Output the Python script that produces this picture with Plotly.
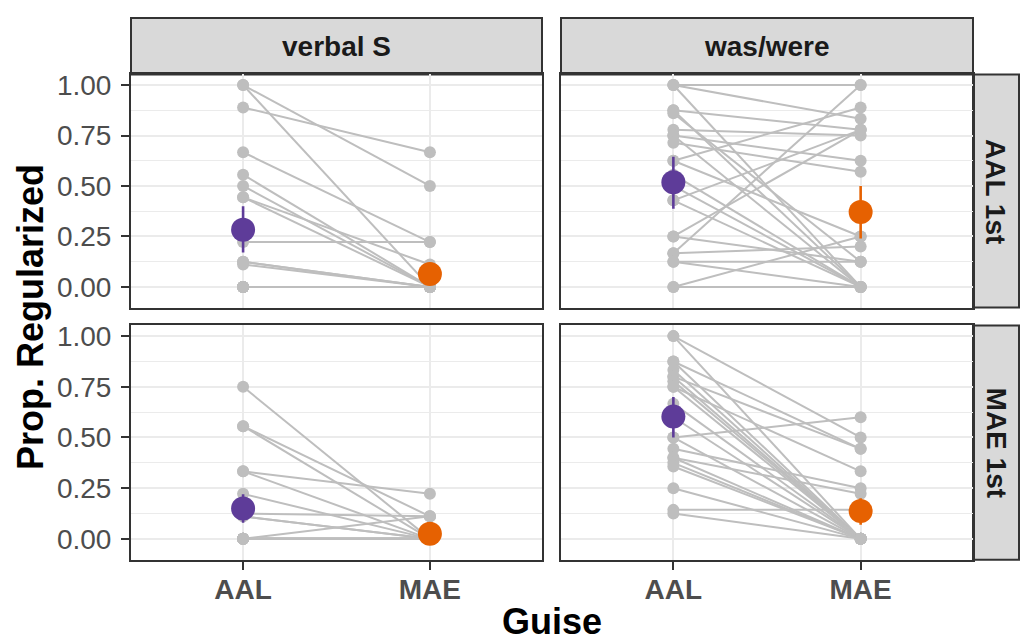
import plotly.graph_objects as go

W, H = 1020, 641

guise = ["AAL", "MAE"]
features = ["verbal S", "was/were"]
orders = ["AAL 1st", "MAE 1st"]
y_ticks = [0.0, 0.25, 0.50, 0.75, 1.00]
y_tick_labels = ["0.00", "0.25", "0.50", "0.75", "1.00"]

# Per-listener proportion regularized: value in the AAL guise, value in the MAE guise
vs_aal1st_aal = [1.0, 1.0, 0.889, 0.667, 0.556, 0.5, 0.444, 0.444, 0.222, 0.125, 0.125, 0.111,
                 0, 0, 0, 0, 0, 0, 0, 0, 0, 0]
vs_aal1st_mae = [0.5, 0.0, 0.667, 0.222, 0.0, 0.0, 0.0, 0.111, 0.222, 0.0, 0.0, 0.0,
                 0, 0, 0, 0, 0, 0, 0, 0, 0, 0]

ww_aal1st_aal = [1.0, 1.0, 1.0, 0.875, 0.875, 0.86, 0.778, 0.75, 0.75, 0.714, 0.625, 0.625,
                 0.429, 0.429, 0.25, 0.25, 0.167, 0.167, 0.125, 0.125, 0.0, 0.0, 0.5, 0.556]
ww_aal1st_mae = [1.0, 0.0, 0.833, 0.778, 0.0, 0.125, 0.75, 0.625, 0.0, 0.571, 0.889, 0.25,
                 0.778, 0.0, 0.778, 0.125, 1.0, 0.2, 0.125, 0.0, 0.25, 0.0, 0.0, 0.0]

vs_mae1st_aal = [0.75, 0.556, 0.556, 0.333, 0.333, 0.222, 0.125, 0.111, 0.111, 0.0,
                 0, 0, 0, 0, 0, 0, 0, 0, 0, 0]
vs_mae1st_mae = [0.0, 0.0, 0.111, 0.222, 0.0, 0.0, 0.111, 0.0, 0.0, 0.111,
                 0, 0, 0, 0, 0, 0, 0, 0, 0, 0]

ww_mae1st_aal = [1.0, 1.0, 0.875, 0.875, 0.833, 0.8, 0.8, 0.778, 0.75, 0.75, 0.667,
                 0.6, 0.5, 0.5, 0.444, 0.4, 0.4, 0.375, 0.357, 0.25, 0.143, 0.125]
ww_mae1st_mae = [0.5, 0.0, 0.444, 0.0, 0.0, 0.444, 0.0, 0.0, 0.333, 0.0, 0.0,
                 0.0, 0.6, 0.0, 0.25, 0.222, 0.0, 0.0, 0.0, 0.0, 0.143, 0.0]

# Group means with interval bounds, panel order:
# verbal S / AAL 1st, was/were / AAL 1st, verbal S / MAE 1st, was/were / MAE 1st
mean_aal = [0.283, 0.518, 0.150, 0.603]
lo_aal = [0.170, 0.387, 0.080, 0.500]
hi_aal = [0.400, 0.645, 0.220, 0.700]
mean_mae = [0.064, 0.371, 0.025, 0.137]
lo_mae = [0.010, 0.240, -0.010, 0.070]
hi_mae = [0.120, 0.500, 0.060, 0.200]

panels = [
    (vs_aal1st_aal, vs_aal1st_mae),
    (ww_aal1st_aal, ww_aal1st_mae),
    (vs_mae1st_aal, vs_mae1st_mae),
    (ww_mae1st_aal, ww_mae1st_mae),
]

PURPLE = "#5E3C99"
ORANGE = "#E66101"
GREY = "#BEBEBE"
GRID = "#EBEBEB"
DARK = "#333333"
FONT = "Liberation Sans, Arial, sans-serif"

# panel geometry in pixels
col_x = [(131, 542), (561, 973)]
row_y = [(70, 305), (323, 559)]
strip_top = (13, 70)
strip_right = (973, 1019)

def px_x(v):
    return v / W

def px_y(v):
    return 1 - v / H

fig = go.Figure()

for i, (aal_vals, mae_vals) in enumerate(panels):
    r, c = divmod(i, 2)
    ax = "" if i == 0 else str(i + 1)
    xref, yref = "x" + ax, "y" + ax

    lx, ly = [], []
    for a, m in zip(aal_vals, mae_vals):
        lx += [1, 2, None]
        ly += [a, m, None]
    fig.add_trace(go.Scatter(x=lx, y=ly, mode="lines", xaxis=xref, yaxis=yref,
                             line=dict(color=GREY, width=2), hoverinfo="skip",
                             showlegend=False))
    fig.add_trace(go.Scatter(x=[1] * len(aal_vals) + [2] * len(mae_vals),
                             y=list(aal_vals) + list(mae_vals), mode="markers",
                             xaxis=xref, yaxis=yref,
                             marker=dict(color=GREY, size=12, line=dict(width=0)),
                             showlegend=False))
    for gx, mu, lo, hi, col in [(1, mean_aal[i], lo_aal[i], hi_aal[i], PURPLE),
                                (2, mean_mae[i], lo_mae[i], hi_mae[i], ORANGE)]:
        fig.add_trace(go.Scatter(
            x=[gx], y=[mu], mode="markers", xaxis=xref, yaxis=yref,
            marker=dict(color=col, size=24, line=dict(width=0)),
            error_y=dict(type="data", symmetric=False, array=[hi - mu],
                         arrayminus=[mu - lo], color=col, thickness=2.6, width=0),
            showlegend=False))

    x0, x1 = col_x[c]
    y0, y1 = row_y[r]
    bottom = r == 1
    left = c == 0
    fig.update_layout(**{
        "xaxis" + ax: dict(
            domain=[px_x(x0), px_x(x1)], anchor=yref, range=[0.4, 2.6],
            tickvals=[1, 2], ticktext=guise, showticklabels=bottom,
            ticks="outside" if bottom else "", ticklen=8, tickwidth=2, tickcolor=DARK,
            ticklabelstandoff=-4,
            tickfont=dict(family=FONT, size=28, color="#4D4D4D", weight="bold"),
            showgrid=True, gridcolor=GRID, gridwidth=2.4, zeroline=False,
            showline=True, mirror=True, linecolor=DARK, linewidth=2,
        ),
        "yaxis" + ax: dict(
            domain=[px_y(y1), px_y(y0)], anchor=xref, range=[-0.1025, 1.0525],
            tickvals=y_ticks, ticktext=y_tick_labels, showticklabels=left,
            ticks="outside" if left else "", ticklen=8, tickwidth=2, tickcolor=DARK,
            ticklabelstandoff=4,
            tickfont=dict(family=FONT, size=28, color="#4D4D4D"),
            showgrid=True, gridcolor=GRID, gridwidth=2.4, zeroline=False,
            minor=dict(tickvals=[0.125, 0.375, 0.625, 0.875], showgrid=True,
                       gridcolor=GRID, gridwidth=1.2, ticks=""),
            showline=True, mirror=True, linecolor=DARK, linewidth=2,
        ),
    })

shapes = []
annotations = []
for c, name in enumerate(features):
    x0, x1 = col_x[c]
    shapes.append(dict(type="rect", xref="paper", yref="paper",
                       x0=px_x(x0), x1=px_x(x1), y0=px_y(strip_top[1]), y1=px_y(strip_top[0]),
                       fillcolor="#D9D9D9", line=dict(color=DARK, width=2), layer="below"))
    annotations.append(dict(text=name, xref="paper", yref="paper",
                            x=px_x((x0 + x1) / 2), y=px_y(sum(strip_top) / 2),
                            showarrow=False, xanchor="center", yanchor="middle",
                            font=dict(family=FONT, size=28, color="#1A1A1A", weight="bold")))
for r, name in enumerate(orders):
    y0, y1 = row_y[r]
    shapes.append(dict(type="rect", xref="paper", yref="paper",
                       x0=px_x(strip_right[0]), x1=px_x(strip_right[1]), y0=px_y(y1), y1=px_y(y0),
                       fillcolor="#D9D9D9", line=dict(color=DARK, width=2), layer="below"))
    annotations.append(dict(text=name, xref="paper", yref="paper",
                            x=px_x(sum(strip_right) / 2), y=px_y((y0 + y1) / 2),
                            showarrow=False, xanchor="center", yanchor="middle", textangle=90,
                            font=dict(family=FONT, size=28, color="#1A1A1A", weight="bold")))

annotations.append(dict(text="Guise", xref="paper", yref="paper",
                        x=px_x((col_x[0][0] + col_x[1][1]) / 2), y=px_y(621),
                        showarrow=False, xanchor="center", yanchor="middle",
                        font=dict(family=FONT, size=36, color="black", weight="bold")))
annotations.append(dict(text="Prop. Regularized", xref="paper", yref="paper",
                        x=px_x(30), y=px_y((row_y[0][0] + row_y[1][1]) / 2),
                        showarrow=False, xanchor="center", yanchor="middle", textangle=-90,
                        font=dict(family=FONT, size=36, color="black", weight="bold")))

fig.update_layout(width=W, height=H, autosize=False,
                  margin=dict(l=0, r=0, t=0, b=0),
                  paper_bgcolor="white", plot_bgcolor="white",
                  shapes=shapes, annotations=annotations, showlegend=False)

fig.write_html("out.html")
